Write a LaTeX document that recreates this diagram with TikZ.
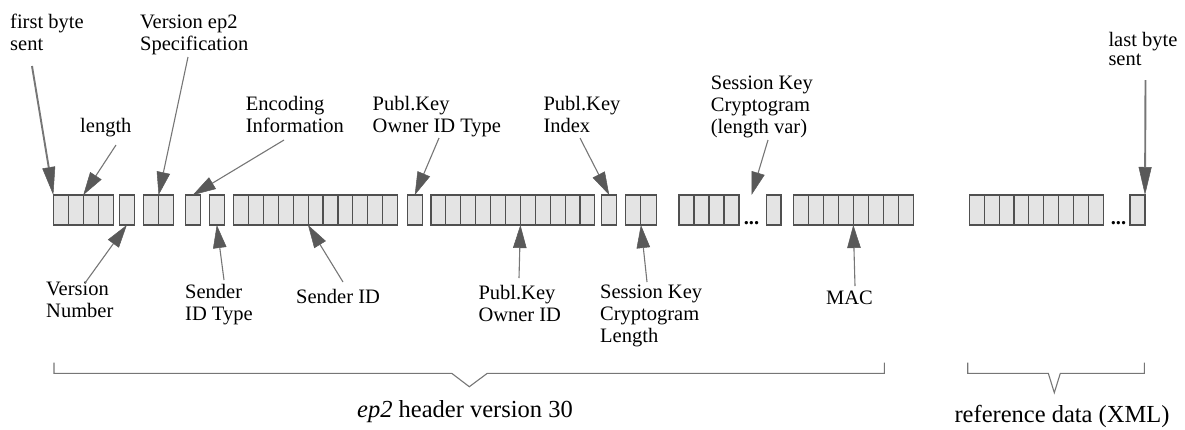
\documentclass[tikz,border=0pt]{standalone}
\usepackage{fontspec}
\setmainfont{Liberation Serif}
\usetikzlibrary{arrows.meta}
\definecolor{boxfill}{HTML}{E4E4E4}
\definecolor{boxline}{HTML}{505050}
\definecolor{arrline}{HTML}{767676}
\definecolor{arrhead}{HTML}{595959}
\tikzset{
  byte/.style={draw=boxline, fill=boxfill, line width=1.1pt, minimum width=15pt,
    minimum height=30pt, inner sep=0pt, outer sep=0pt, anchor=north west},
  lbl/.style={anchor=base west, align=left, inner sep=0pt, text=black,
    font=\fontsize{20.5}{22}\selectfont},
  captext/.style={anchor=base, inner sep=0pt, text=black, font=\fontsize{24.5}{26}\selectfont},
  dotsnode/.style={anchor=base, inner sep=0pt, font=\bfseries\fontsize{20.5}{22}\selectfont},
  arr/.style={draw=arrline, line width=1.1pt,
    arrows={-Triangle[length=23pt 0 0, width=13.5pt 0 0, color=arrhead, fill=arrhead, line width=0.5pt]}},
  arrbold/.style={draw=arrline, line width=1.9pt,
    arrows={-Triangle[length=28pt 0 0, width=13pt 0 0, color=arrhead, fill=arrhead, line width=0.5pt]}},
  brace/.style={draw=arrline, line width=1.1pt},
}
\begin{document}
\begin{tikzpicture}[x=1pt,y=-1pt]
\useasboundingbox (0,0) rectangle (1185,429);

% ---- byte boxes ----
\foreach \i in {0,...,3} \node[byte] (fb\i) at ({53.3+15*\i},195) {};
\node[byte] (vn) at (119.3,195) {};
\foreach \i in {0,1} \node[byte, minimum width=15.3pt] (ve\i) at ({143.3+15.3*\i},195) {};
\node[byte] (enc) at (185.3,195) {};
\node[byte] (sit) at (209.3,195) {};
\foreach \i in {0,...,10} \node[byte, minimum width=14.95pt] (sid\i) at ({233.3+14.95*\i},195) {};
\node[byte] (pkt) at (407.3,195) {};
\foreach \i in {0,...,10} \node[byte, minimum width=14.9pt] (pko\i) at ({431+14.9*\i},195) {};
\node[byte] (pki) at (601.7,195) {};
\foreach \i in {0,1} \node[byte, minimum width=15.2pt] (skl\i) at ({625.7+15.2*\i},195) {};
\foreach \i in {0,...,3} \node[byte] (skc\i) at ({679+15*\i},195) {};
\node[dotsnode] (dots1) at (751.5,224.5) {...};
\node[byte, minimum width=14.3pt] (skc4) at (766.7,195) {};
\foreach \i in {0,...,7} \node[byte] (mac\i) at ({793.3+15*\i},195) {};
\foreach \i in {0,...,8} \node[byte, minimum width=14.9pt] (ref\i) at ({969.3+14.9*\i},195) {};
\node[dotsnode] (dots2) at (1118.5,224.5) {...};
\node[byte] (refl) at (1130,195) {};

% ---- labels above (anchored at the baseline of the last line) ----
\node[lbl] (Lfirst) at (10,50) {first byte\\sent};
\node[lbl] (Lver) at (140,50) {Version ep2\\Specification};
\node[lbl] (Llen) at (80,132) {length};
\node[lbl] (Lenc) at (245.7,132) {Encoding\\Information};
\node[lbl] (Lpkt) at (372.5,132) {Publ.Key\\Owner ID Type};
\node[lbl] (Lpki) at (543.3,132) {Publ.Key\\Index};
\node[lbl] (Lskc) at (710.7,133) {Session Key\\Cryptogram\\(length var)};
\node[lbl] (Llast) at (1108.3,65) {last byte\\[-3pt]sent};

% ---- labels below ----
\node[lbl] (Lvn) at (46,317) {Version\\Number};
\node[lbl] (Lsit) at (185,320) {Sender\\ID Type};
\node[lbl] (Lsid) at (296,303) {Sender ID};
\node[lbl] (Lpko) at (478.3,321) {Publ.Key\\Owner ID};
\node[lbl] (Lskl) at (600,342) {Session Key\\Cryptogram\\Length};
\node[lbl] (Lmac) at (826,304) {MAC};

% ---- arrow start points ----
\coordinate (sFirst) at (32,66);
\coordinate (sLen) at (116,145);
\coordinate (sVer) at (188,57);
\coordinate (sEnc) at (284,140);
\coordinate (sPkt) at (439,138);
\coordinate (sPki) at (580,138);
\coordinate (sSkc) at (768,140);
\coordinate (sLast) at (1145.5,80);
\coordinate (sVn) at (85,283);
\coordinate (sSit) at (224,280);
\coordinate (sSid) at (343,282);
\coordinate (sPko) at (519,278);
\coordinate (sSkl) at (647,282);
\coordinate (sMac) at (855,286);

% ---- arrows ----
\draw[arrbold] (sFirst) -- (fb0.north west);
\draw[arr] (sLen) -- (fb1.north east);
\draw[arr] (sVer) -- (ve0.north east);
\draw[arr] (sEnc) -- (enc.north);
\draw[arr] (sPkt) -- (pkt.north);
\draw[arr] (sPki) -- (pki.north);
\draw[arr] (sSkc) -- (dots1 |- skc4.north);
\draw[arrbold] (sLast) -- (refl.north east);
\draw[arr] (sVn) -- (vn.south);
\draw[arr] (sSit) -- (sit.south);
\draw[arr] (sSid) -- (sid4.south east);
\draw[arr] (sPko) -- (pko5.south east);
\draw[arr] (sSkl) -- (skl0.south east);
\draw[arr] (sMac) -- (mac3.south east);

% ---- braces ----
\draw[brace] (54,362.7) -- (54,373.3) -- (451.7,373.3) -- (469.3,386.7) -- (487.3,373.3)
  -- (884.3,373.3) -- (884.3,362.7);
\draw[brace] (967.7,362.7) -- (967.7,373.3) -- (1048.3,373.3) -- (1054.3,392.7)
  -- (1060.3,373.3) -- (1144.3,373.3) -- (1144.3,362.7);

% ---- captions ----
\node[captext] (Chdr) at (465,417) {\textit{ep2} header version 30};
\node[captext] (Cref) at (1062,422) {reference data (XML)};
\end{tikzpicture}
\end{document}
